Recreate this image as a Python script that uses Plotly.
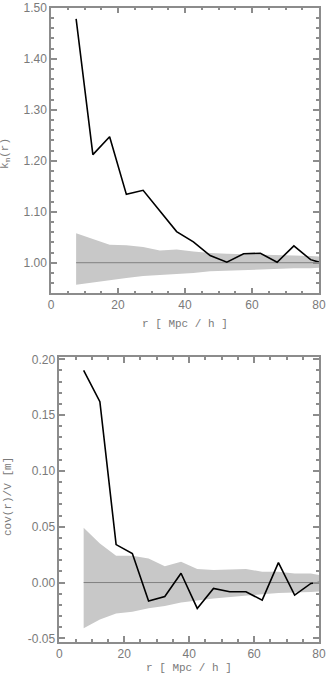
import plotly.graph_objects as go

# ---- data ----
r = [7.5, 12.5, 17.5, 22.5, 27.5, 32.5, 37.5, 42.5, 47.5, 52.5, 57.5, 62.5, 67.5, 72.5, 77.5, 80.0]

km = [1.478, 1.212, 1.247, 1.134, 1.142, 1.101, 1.061, 1.041, 1.014, 1.001,
      1.0175, 1.0185, 1.001, 1.033, 1.006, 1.001]
km_upper = [1.058, 1.047, 1.035, 1.034, 1.031, 1.024, 1.026, 1.022, 1.019, 1.0175,
            1.017, 1.016, 1.015, 1.014, 1.013, 1.012]
km_lower = [0.957, 0.961, 0.965, 0.970, 0.974, 0.976, 0.978, 0.980, 0.983, 0.984,
            0.986, 0.986, 0.988, 0.989, 0.989, 0.990]
km_ref = 1.0

cov = [0.190, 0.162, 0.034, 0.026, -0.0166, -0.0125, 0.0083, -0.0232, -0.0053, -0.0083,
       -0.0083, -0.0158, 0.0178, -0.0113, -0.0008, 0.000]
cov_upper = [0.049, 0.035, 0.024, 0.024, 0.0215, 0.0147, 0.0187, 0.0122, 0.0112, 0.0114,
             0.0121, 0.0097, 0.0097, 0.0082, 0.0080, 0.0068]
cov_lower = [-0.041, -0.033, -0.0277, -0.0262, -0.0231, -0.0211, -0.0178, -0.016, -0.0143, -0.0128,
             -0.0116, -0.0104, -0.0093, -0.0087, -0.0084, -0.008]
cov_ref = 0.0

x_ticks = [0, 20, 40, 60, 80]
km_ticks = [1.00, 1.10, 1.20, 1.30, 1.40, 1.50]
cov_ticks = [-0.05, 0.00, 0.05, 0.10, 0.15, 0.20]

W, H = 326, 676
BAND = "rgb(200,200,200)"
AXC = "#8c8c8c"
TXT = "#7a7a7a"
LW = 1.5

fig = go.Figure()

def add_panel(xa, ya, y, up, lo, ref):
    fig.add_trace(go.Scatter(x=r + r[::-1], y=up + lo[::-1], fill="toself", fillcolor=BAND,
                             mode="lines", line=dict(width=0, color=BAND), hoverinfo="skip",
                             xaxis=xa, yaxis=ya, showlegend=False))
    fig.add_trace(go.Scatter(x=[r[0], r[-1]], y=[ref, ref], mode="lines",
                             line=dict(color="#808080", width=1), xaxis=xa, yaxis=ya, showlegend=False))
    fig.add_trace(go.Scatter(x=r, y=y, mode="lines", line=dict(color="black", width=1.6),
                             xaxis=xa, yaxis=ya, showlegend=False))

add_panel("x", "y", km, km_upper, km_lower, km_ref)
add_panel("x2", "y2", cov, cov_upper, cov_lower, cov_ref)

def xax(domain, anchor):
    return dict(domain=domain, anchor=anchor, range=[0, 80.001], tickvals=x_ticks,
                ticktext=[str(v) for v in x_ticks], ticks="inside", ticklen=6, tickcolor=AXC,
                tickwidth=LW, showline=True, linecolor=AXC, linewidth=LW, mirror="ticks",
                showgrid=False, zeroline=False, automargin=False, layer="above traces",
                tickfont=dict(family="Liberation Sans", size=12, color=TXT),
                minor=dict(dtick=5, tick0=0, ticks="inside", ticklen=3, tickcolor=AXC,
                           tickwidth=LW, showgrid=False))

def yax(domain, anchor, rng, tv, fmt, mdt):
    return dict(domain=domain, anchor=anchor, range=rng, tickvals=tv,
                ticktext=[fmt.format(v) for v in tv], ticks="inside", ticklen=6, tickcolor=AXC,
                tickwidth=LW, showline=True, linecolor=AXC, linewidth=LW, mirror="ticks",
                showgrid=False, zeroline=False, automargin=False, layer="above traces",
                tickfont=dict(family="Liberation Sans", size=12, color=TXT),
                minor=dict(dtick=mdt, tick0=0, ticks="inside", ticklen=3, tickcolor=AXC,
                           tickwidth=LW, showgrid=False))

fig.update_layout(
    width=W, height=H,
    margin=dict(l=0, r=0, t=0, b=0),
    paper_bgcolor="white", plot_bgcolor="white",
    showlegend=False,
    xaxis=xax([51 / W, 319 / W], "y"),
    yaxis=yax([1 - 293.3 / H, 1 - 7.5 / H], "x", [0.94, 1.5005], km_ticks, "{:.2f}", 0.02),
    xaxis2=xax([59.3 / W, 319 / W], "y2"),
    yaxis2=yax([1 - 641.7 / H, 1 - 357.3 / H], "x2", [-0.053, 0.2018], cov_ticks, "{:.2f}", 0.01),
)

tf = dict(family="Liberation Mono", size=11, color=TXT)
fig.add_annotation(text="r [ Mpc / h ]", x=185 / W, y=1 - 324 / H, xref="paper", yref="paper",
                   showarrow=False, font=tf, xanchor="center", yanchor="middle")
fig.add_annotation(text="r [ Mpc / h ]", x=189 / W, y=1 - 668 / H, xref="paper", yref="paper",
                   showarrow=False, font=tf, xanchor="center", yanchor="middle")
fig.add_annotation(text="k<sub>m</sub>(r)", x=6 / W, y=1 - 154 / H, xref="paper", yref="paper",
                   showarrow=False, font=tf, textangle=-90, xanchor="center", yanchor="middle")
fig.add_annotation(text="cov(r)/V [m]", x=8 / W, y=1 - 497 / H, xref="paper", yref="paper",
                   showarrow=False, font=tf, textangle=-90, xanchor="center", yanchor="middle")

fig.write_html("out.html", config={"displayModeBar": False},
               post_script="document.body.style.margin='0px';document.body.style.padding='0px';")
